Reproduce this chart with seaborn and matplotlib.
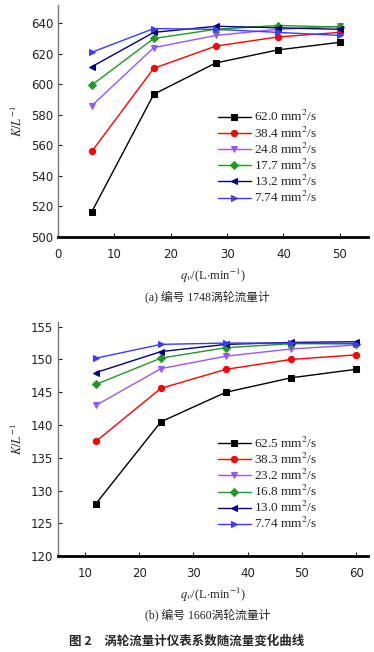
import numpy as np
import pandas as pd
import seaborn as sns
import matplotlib
matplotlib.use("Agg")
import matplotlib.pyplot as plt

sns.set_theme(style="white")
plt.rcParams["font.family"] = ["Liberation Serif", "Noto Sans CJK SC", "DejaVu Sans"]
plt.rcParams["mathtext.fontset"] = "stix"

# series styling
colors = ["#000000", "#ff0000", "#9955ff", "#229922", "#000080", "#3c3cff"]
markers = ["s", "o", "v", "D", "<", ">"]
msizes = [4.5, 4.5, 5, 4, 5, 5]

# (a) meter 1748
q_a = [6, 17, 28, 39, 50]
labels_a = ["62.0 mm$^2$/s", "38.4 mm$^2$/s", "24.8 mm$^2$/s",
            "17.7 mm$^2$/s", "13.2 mm$^2$/s", "7.74 mm$^2$/s"]
k_a_620 = [516.5, 593.5, 614.0, 622.5, 627.5]
k_a_384 = [556.0, 610.5, 625.0, 631.0, 634.0]
k_a_248 = [586.0, 624.0, 632.0, 636.0, 638.0]
k_a_177 = [599.5, 630.0, 636.0, 638.5, 637.5]
k_a_132 = [611.5, 634.0, 638.0, 637.0, 636.0]
k_a_774 = [621.0, 636.5, 636.0, 634.0, 632.0]
series_a = [k_a_620, k_a_384, k_a_248, k_a_177, k_a_132, k_a_774]

# (b) meter 1660
q_b = [12, 24, 36, 48, 60]
labels_b = ["62.5 mm$^2$/s", "38.3 mm$^2$/s", "23.2 mm$^2$/s",
            "16.8 mm$^2$/s", "13.0 mm$^2$/s", "7.74 mm$^2$/s"]
k_b_625 = [128.0, 140.5, 145.0, 147.2, 148.5]
k_b_383 = [137.5, 145.6, 148.5, 150.0, 150.7]
k_b_232 = [143.0, 148.6, 150.5, 151.6, 152.2]
k_b_168 = [146.2, 150.2, 151.8, 152.4, 152.4]
k_b_130 = [148.0, 151.2, 152.3, 152.6, 152.7]
k_b_774 = [150.2, 152.3, 152.5, 152.5, 152.4]
series_b = [k_b_625, k_b_383, k_b_232, k_b_168, k_b_130, k_b_774]

fig = plt.figure(figsize=(3.74, 6.52), dpi=100)
ax1 = fig.add_axes([0.155, 0.6365, 0.829, 0.356])
ax2 = fig.add_axes([0.155, 0.147, 0.829, 0.359])


def draw(ax, q, series, labels, leg_y):
    for vals, lab, c, m, ms in zip(series, labels, colors, markers, msizes):
        df = pd.DataFrame({"q": q, "k": vals})
        sns.lineplot(data=df, x="q", y="k", ax=ax, color=c, marker=m,
                     markersize=ms, markeredgecolor=c, linewidth=1.0, label=lab)
    for s in ["top", "right"]:
        ax.spines[s].set_visible(False)
    ax.spines["bottom"].set_color("black")
    ax.spines["bottom"].set_linewidth(2.0)
    ax.spines["left"].set_color("#777777")
    ax.spines["left"].set_linewidth(1.0)
    ax.tick_params(axis="both", direction="in", length=3, width=0.8,
                   labelsize=8.5, colors="#222222", bottom=True, left=True)
    ax.tick_params(axis="x", pad=8)
    for t in ax.get_xticklabels() + ax.get_yticklabels():
        t.set_family("DejaVu Sans")
    ax.set_xlabel(r"$q_v$/(L$\cdot$min$^{-1}$)", fontsize=9, labelpad=4)
    ax.set_ylabel(r"$K/L^{-1}$", fontsize=9, labelpad=4)
    ax.legend(loc="upper left", bbox_to_anchor=(0.515, leg_y), frameon=False,
              fontsize=9.5, handlelength=2.5, labelspacing=0.08,
              handletextpad=0.25, borderaxespad=0, borderpad=0)
    ax.grid(False)


draw(ax1, q_a, series_a, labels_a, 0.55)
ax1.set_xlim(0, 55)
ax1.set_ylim(500, 652)
ax1.set_xticks([0, 10, 20, 30, 40, 50])
ax1.set_yticks([500, 520, 540, 560, 580, 600, 620, 640])

draw(ax2, q_b, series_b, labels_b, 0.515)
ax2.set_xlim(5, 62.2)
ax2.set_ylim(120, 155.7)
ax2.set_xticks([10, 20, 30, 40, 50, 60])
ax2.set_yticks([120, 125, 130, 135, 140, 145, 150, 155])

fig.text(0.555, 0.545, "(a) 编号 1748涡轮流量计", ha="center", va="center", fontsize=8.5)
fig.text(0.555, 0.057, "(b) 编号 1660涡轮流量计", ha="center", va="center", fontsize=8.5)
fig.text(0.5, 0.016, "图 2　涡轮流量计仪表系数随流量变化曲线", ha="center", va="center",
         fontsize=9, fontweight="bold", family=["Noto Sans CJK SC", "DejaVu Sans"])

fig.savefig("out.png", dpi=100)
